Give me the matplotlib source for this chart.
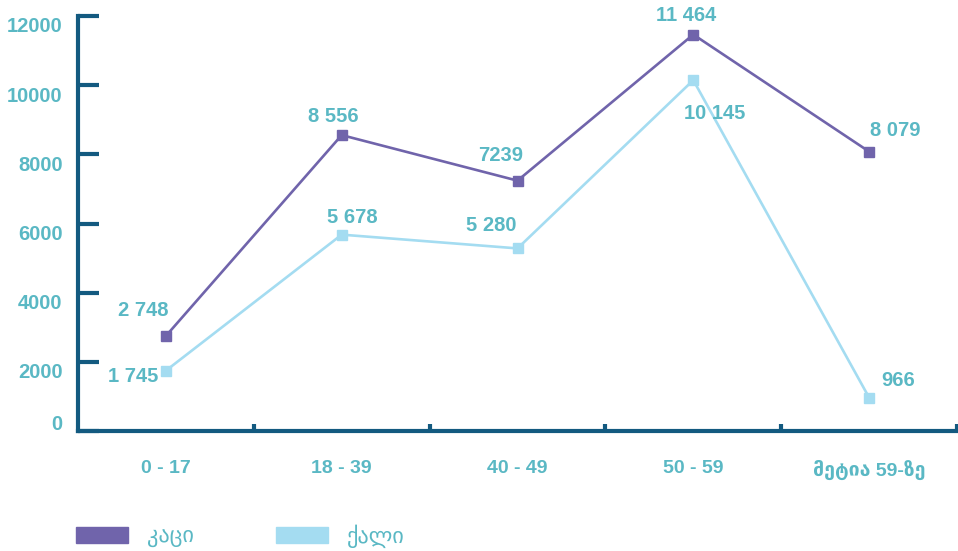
import matplotlib
matplotlib.use('Agg')
import matplotlib.pyplot as plt
from matplotlib.patches import Patch
from matplotlib.transforms import ScaledTranslation

# data
categories = ['0 - 17', '18 - 39', '40 - 49', '50 - 59', 'მეტია 59-ზე']
men = [2748, 8556, 7239, 11464, 8079]
women = [1745, 5678, 5280, 10145, 966]
men_labels = ['2 748', '8 556', '7239', '11 464', '8 079']
women_labels = ['1 745', '5 678', '5 280', '10 145', '966']
series_names = ['კაცი', 'ქალი']

# style
AXIS = '#135a80'
TEXT = '#5ab8c4'
MEN_C = '#7064ab'
WOMEN_C = '#a4dcf1'
FAM = ['Liberation Sans', 'DejaVu Sans']
plt.rcParams['font.family'] = FAM

fig = plt.figure(figsize=(9.58, 5.51), dpi=100)
ax = fig.add_axes((78 / 958, 1 - 431 / 551, 879 / 958, 415 / 551))

x = [i + 0.5 for i in range(len(categories))]
ax.plot(x, men, color=MEN_C, lw=1.9, marker='s', ms=6.5, zorder=3)
ax.plot(x, women, color=WOMEN_C, lw=1.9, marker='s', ms=6.5, zorder=3)

ax.set_xlim(0, len(categories))
ax.set_ylim(0, 12000)

for s in ['top', 'right']:
    ax.spines[s].set_visible(False)
for s in ['left', 'bottom']:
    ax.spines[s].set_color(AXIS)
    ax.spines[s].set_linewidth(3)

# y ticks (labels sit a little below their ticks, the zero label a little above)
ax.set_yticks(range(0, 12001, 2000))
ax.tick_params(axis='y', direction='in', length=15, width=3, color=AXIS,
               labelcolor=TEXT, labelsize=14.5, pad=11)
for i, lab in enumerate(ax.get_yticklabels()):
    lab.set_fontweight('bold')
    dy = 8 / 100 if i == 0 else -9 / 100
    lab.set_transform(lab.get_transform() + ScaledTranslation(0, dy, fig.dpi_scale_trans))

# x ticks: boundaries as major, names as minor
ax.set_xticks(range(1, len(categories) + 1))
ax.set_xticklabels([])
ax.tick_params(axis='x', which='major', direction='in', length=5, width=3, color=AXIS)
ax.set_xticks(x, minor=True)
ax.set_xticklabels(categories, minor=True)
ax.tick_params(axis='x', which='minor', length=0, pad=21, labelcolor=TEXT, labelsize=14)
for lab in ax.get_xticklabels(minor=True):
    lab.set_fontweight('bold')

# value labels
men_off = [(-23, 25), (-8, 19), (-17, 25), (-7, 19), (26, 21)]
women_off = [(-33, -6), (11, 17), (-26, 23), (21, -33), (29, 17)]
for xi, v, t, o in zip(x, men, men_labels, men_off):
    ax.annotate(t, (xi, v), xytext=o, textcoords='offset pixels', ha='center', va='center',
                color=TEXT, fontsize=14.5, fontweight='bold')
for xi, v, t, o in zip(x, women, women_labels, women_off):
    ax.annotate(t, (xi, v), xytext=o, textcoords='offset pixels', ha='center', va='center',
                color=TEXT, fontsize=14.5, fontweight='bold')

# legend
handles = [Patch(color=MEN_C, label=series_names[0]), Patch(color=WOMEN_C, label=series_names[1])]
leg = fig.legend(handles=handles, loc='lower left', bbox_to_anchor=(76 / 958, 3 / 551), ncol=2,
                 frameon=False, fontsize=16, handlelength=2.34, handleheight=0.77,
                 handletextpad=0.86, columnspacing=3.7, borderaxespad=0, borderpad=0)
for t in leg.get_texts():
    t.set_color(TEXT)

fig.savefig('out.png', dpi=100)
